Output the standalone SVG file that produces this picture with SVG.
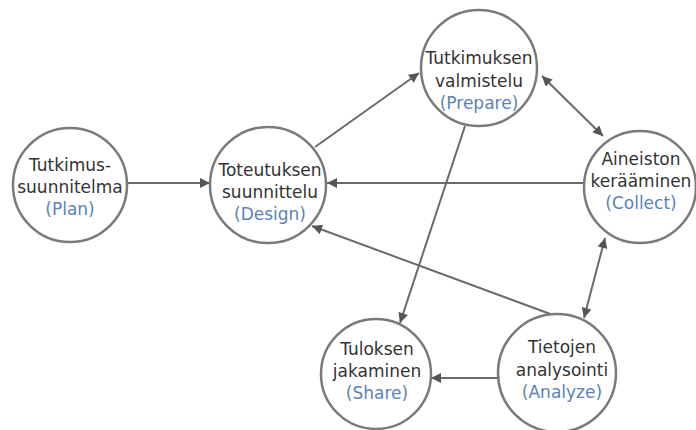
<svg xmlns="http://www.w3.org/2000/svg" width="696" height="430" viewBox="0 0 696 430">
<style>
.node circle{fill:#ffffff;stroke:#7a7a7a;stroke-width:2.5}
.t{font-family:"DejaVu Sans","Liberation Sans",sans-serif;font-size:17px;fill:#333333;text-anchor:middle}
.b{fill:#5a82b8}
.edge{stroke:#6a6a6a;stroke-width:2;fill:none}
</style>
<defs>
<marker id="ah" viewBox="0 0 10 10" refX="10" refY="5" markerWidth="11" markerHeight="10" markerUnits="userSpaceOnUse" orient="auto-start-reverse">
<path d="M0,0 L10,5 L0,10 Z" fill="#555555"/>
</marker>
</defs>
<rect width="696" height="430" fill="#ffffff"/>
<g id="connectors">
<line class="edge" x1="127" y1="183" x2="210" y2="183" marker-end="url(#ah)"/>
<line class="edge" x1="315" y1="147" x2="419" y2="73" marker-end="url(#ah)"/>
<line class="edge" x1="542" y1="76" x2="603" y2="136" marker-start="url(#ah)" marker-end="url(#ah)"/>
<line class="edge" x1="583" y1="183" x2="327" y2="183" marker-end="url(#ah)"/>
<line class="edge" x1="553" y1="315" x2="312" y2="226" marker-end="url(#ah)"/>
<line class="edge" x1="584" y1="318" x2="605" y2="238" marker-start="url(#ah)" marker-end="url(#ah)"/>
<line class="edge" x1="465" y1="126" x2="400" y2="323" marker-end="url(#ah)"/>
<line class="edge" x1="497" y1="378" x2="431" y2="378" marker-end="url(#ah)"/>
</g>
<g id="plan" class="node">
<circle cx="70" cy="185" r="57"/>
<text class="t" x="70" y="171">Tutkimus-</text>
<text class="t" x="70" y="193">suunnitelma</text>
<text class="t b" x="70" y="215">(Plan)</text>
</g>
<g id="design" class="node">
<circle cx="268" cy="185" r="58"/>
<text class="t" x="270" y="176">Toteutuksen</text>
<text class="t" x="270" y="198">suunnittelu</text>
<text class="t b" x="270" y="220">(Design)</text>
</g>
<g id="prepare" class="node">
<circle cx="479" cy="68" r="58"/>
<text class="t" x="479" y="64">Tutkimuksen</text>
<text class="t" x="479" y="87">valmistelu</text>
<text class="t b" x="479" y="109">(Prepare)</text>
</g>
<g id="collect" class="node">
<circle cx="640" cy="187" r="56"/>
<text class="t" x="641" y="165">Aineiston</text>
<text class="t" x="641" y="187">kerääminen</text>
<text class="t b" x="641" y="209">(Collect)</text>
</g>
<g id="share" class="node">
<circle cx="376" cy="374" r="55"/>
<text class="t" x="377" y="355">Tuloksen</text>
<text class="t" x="377" y="377">jakaminen</text>
<text class="t b" x="377" y="399">(Share)</text>
</g>
<g id="analyze" class="node">
<circle cx="557" cy="373" r="59"/>
<text class="t" x="562" y="353">Tietojen</text>
<text class="t" x="562" y="376">analysointi</text>
<text class="t b" x="562" y="398">(Analyze)</text>
</g>
</svg>
